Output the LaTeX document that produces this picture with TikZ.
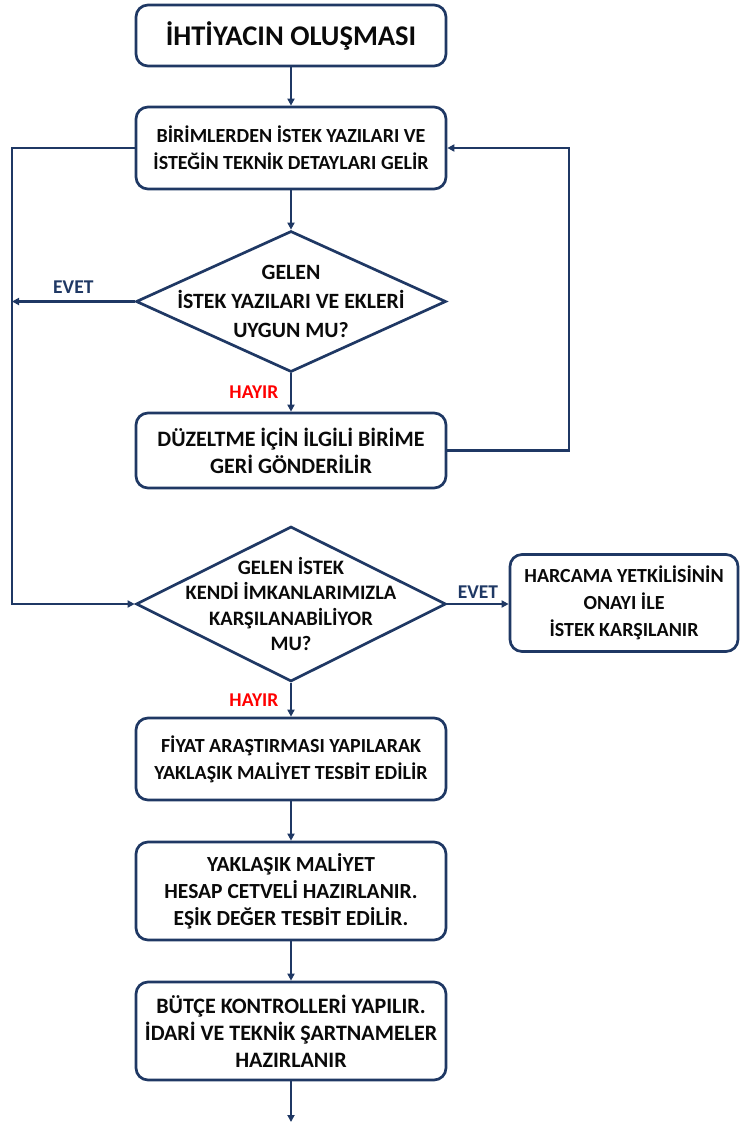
\documentclass[tikz,border=0pt]{standalone}
\usepackage{fontspec}
\setmainfont{Carlito}
\usetikzlibrary{shapes.geometric,arrows.meta}
\definecolor{navy}{RGB}{31,56,100}
\definecolor{txt}{RGB}{10,10,10}
\definecolor{hayir}{RGB}{255,0,0}
\newcommand{\fs}[1]{\bfseries\fontsize{#1}{27}\selectfont}
\begin{document}
\begin{tikzpicture}[x=1pt,y=-1pt,
  box/.style={draw=navy,line width=2.7pt,rounded corners=12pt,fill=white,text=txt,
    align=center,font=\fs{21},inner sep=0pt},
  dia/.style={draw=navy,line width=2.7pt,diamond,inner sep=0pt,fill=white},
  diatext/.style={text=txt,align=center},
  arr/.style={draw=navy,line width=2.7pt,-{Triangle[length=7pt,width=7pt]}},
  yes/.style={text=navy,font=\bfseries\fontsize{19.5}{20}\selectfont},
  no/.style={text=hayir,font=\bfseries\fontsize{19.5}{20}\selectfont}]
\useasboundingbox (0,0) rectangle (740,1122);

\node[box,minimum width=310pt,minimum height=61pt,font=\bfseries\fontsize{28.5}{30}\selectfont] (b1) at (291,35.5) {İHTİYACIN OLUŞMASI};
\node[box,minimum width=310pt,minimum height=82pt,font=\fs{20}] (b2) at (291,148) {BİRİMLERDEN İSTEK YAZILARI VE\\İSTEĞİN TEKNİK DETAYLARI GELİR};
\node[dia,minimum width=310pt,minimum height=141pt,
  label={[diatext,font=\bfseries\fontsize{21.8}{29}\selectfont]center:GELEN\\İSTEK YAZILARI VE EKLERİ\\UYGUN MU?}] (d1) at (291,301.5) {};
\node[box,minimum width=310pt,minimum height=75pt,font=\fs{22}] (b3) at (291,450.5) {DÜZELTME İÇİN İLGİLİ BİRİME\\GERİ GÖNDERİLİR};
\node[dia,minimum width=310pt,minimum height=155pt,
  label={[diatext,font=\bfseries\fontsize{20.5}{25.5}\selectfont]center:GELEN İSTEK\\KENDİ İMKANLARIMIZLA\\KARŞILANABİLİYOR\\MU?}] (d2) at (291,604) {};
\node[box,minimum width=228pt,minimum height=97pt,font=\fs{20}] (b4) at (624,603) {HARCAMA YETKİLİSİNİN\\ONAYI İLE\\İSTEK KARŞILANIR};
\node[box,minimum width=310pt,minimum height=82pt,font=\fs{20}] (b5) at (291,759) {FİYAT ARAŞTIRMASI YAPILARAK\\YAKLAŞIK MALİYET TESBİT EDİLİR};
\node[box,minimum width=310pt,minimum height=98pt,font=\fs{21.5}] (b6) at (291,891) {YAKLAŞIK MALİYET\\HESAP CETVELİ HAZIRLANIR.\\EŞİK DEĞER TESBİT EDİLİR.};
\node[box,minimum width=310pt,minimum height=98pt,font=\fs{22}] (b7) at (291,1031) {BÜTÇE KONTROLLERİ YAPILIR.\\İDARİ VE TEKNİK ŞARTNAMELER\\HAZIRLANIR};

\coordinate (lx) at (12,604);
\coordinate (rx) at (569,148);
\coordinate (end) at (291,1122);

\draw[arr] (b1) -- (b2);
\draw[arr] (b2) -- (d1);
\draw[arr] (d1.west) -- (d1.west -| lx) node[yes,midway,above=3pt] (e1) {EVET};
\draw[arr] (d1.south) -- (b3.north) node[no,midway,left=8pt] (h1) {HAYIR};
\draw[arr] (b3.east) -| (rx) -- (b2.east);
\draw[arr] (b2.west) -| (lx) -- (d2.west);
\draw[arr] (d2.east) -- (d2.east -| b4.west) node[yes,midway,above=1pt] (e2) {EVET};
\draw[arr] (d2.south) -- (b5.north) node[no,midway,left=8pt] (h2) {HAYIR};
\draw[arr] (b5) -- (b6);
\draw[arr] (b6) -- (b7);
\draw[arr] (b7.south) -- (end);
\end{tikzpicture}
\end{document}
